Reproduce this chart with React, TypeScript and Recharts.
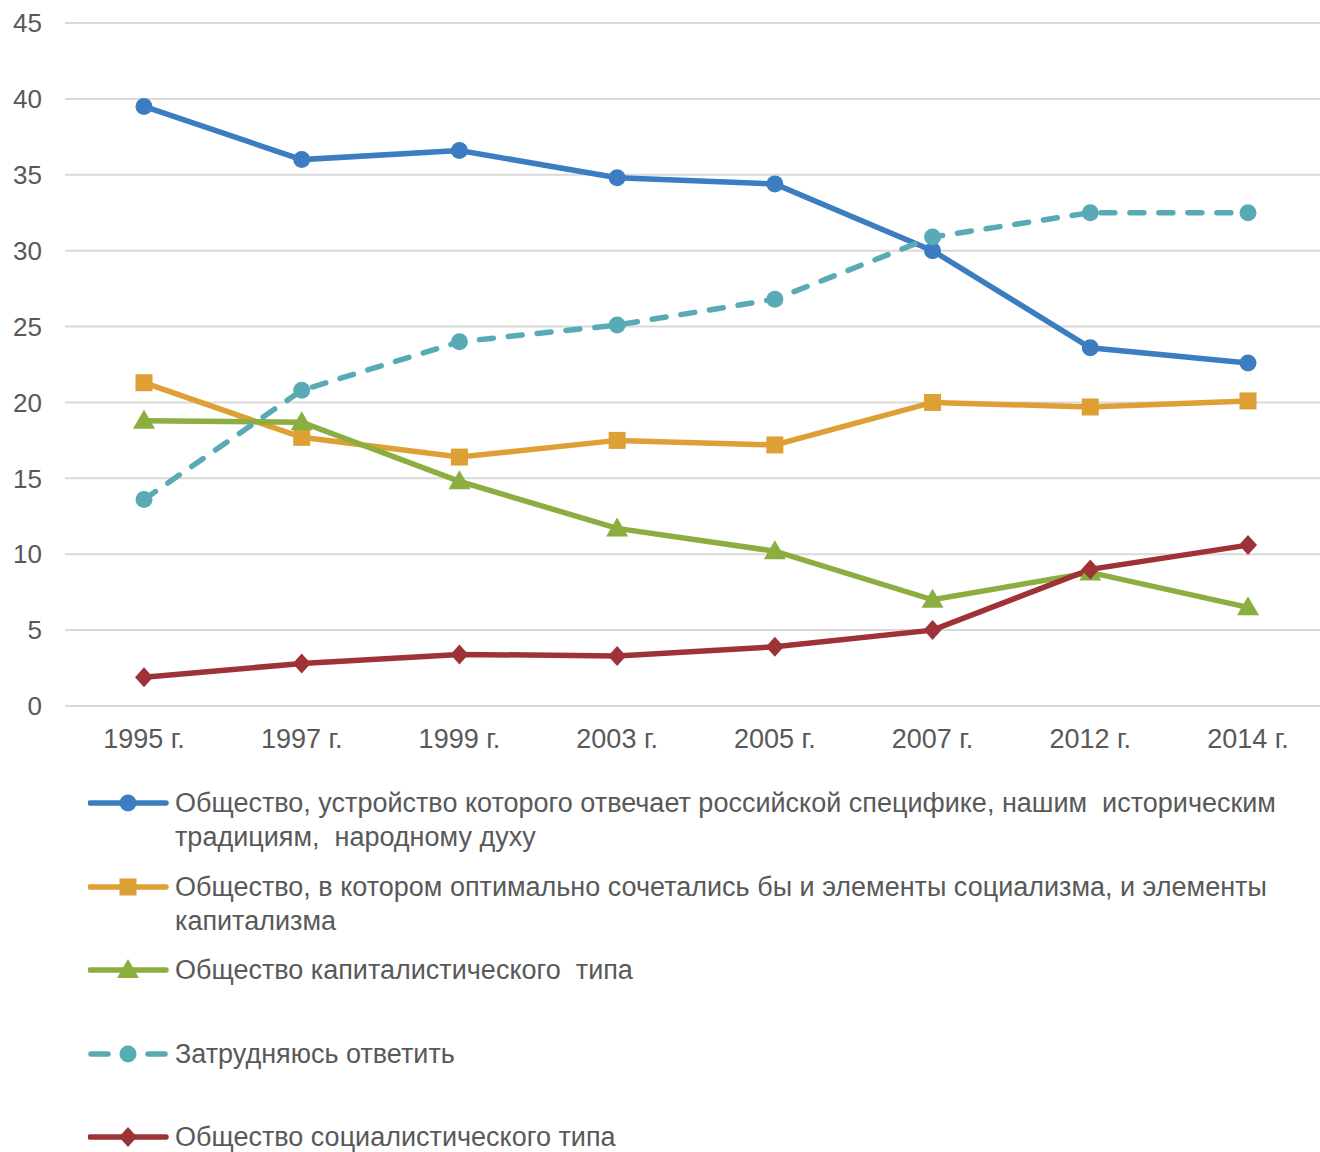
import React from 'react';
import { LineChart, Line, XAxis, YAxis, CartesianGrid, Legend } from 'recharts';

const years = ['1995 г.', '1997 г.', '1999 г.', '2003 г.', '2005 г.', '2007 г.', '2012 г.', '2014 г.'];
const russianWay = [39.5, 36, 36.6, 34.8, 34.4, 30, 23.6, 22.6];
const mixed = [21.3, 17.7, 16.4, 17.5, 17.2, 20, 19.7, 20.1];
const capitalist = [18.8, 18.7, 14.8, 11.7, 10.2, 7, 8.8, 6.5];
const hardToSay = [13.6, 20.8, 24, 25.1, 26.8, 30.9, 32.5, 32.5];
const socialist = [1.9, 2.8, 3.4, 3.3, 3.9, 5, 9, 10.6];
const yTicks = [0, 5, 10, 15, 20, 25, 30, 35, 40, 45];

const data = years.map((year, i) => ({
  year,
  a: russianWay[i],
  b: mixed[i],
  c: capitalist[i],
  d: hardToSay[i],
  e: socialist[i],
}));

const FONT = '"Liberation Sans", Arial, sans-serif';
const TEXT = '#595959';

type Shape = 'circle' | 'square' | 'triangle' | 'diamond';

// legend labels keep the original line breaks
const series = [
  { key: 'a', name: 'Общество, устройство которого отвечает российской специфике, нашим  историческим\nтрадициям,  народному духу', color: '#3B7DC0', shape: 'circle' as Shape, dashed: false },
  { key: 'b', name: 'Общество, в котором оптимально сочетались бы и элементы социализма, и элементы\nкапитализма', color: '#DE9F35', shape: 'square' as Shape, dashed: false },
  { key: 'c', name: 'Общество капиталистического  типа', color: '#8CAD3F', shape: 'triangle' as Shape, dashed: false },
  { key: 'd', name: 'Затрудняюсь ответить', color: '#58AAB5', shape: 'circle' as Shape, dashed: true },
  { key: 'e', name: 'Общество социалистического типа', color: '#9E3236', shape: 'diamond' as Shape, dashed: false },
];

function marker(shape: Shape, cx: number, cy: number, color: string, k?: string) {
  if (shape === 'circle') return <circle key={k} cx={cx} cy={cy} r={8.5} fill={color} />;
  if (shape === 'square') return <rect key={k} x={cx - 8.5} y={cy - 8.5} width={17} height={17} fill={color} />;
  if (shape === 'triangle')
    return <polygon key={k} points={`${cx},${cy - 11} ${cx + 11},${cy + 8} ${cx - 11},${cy + 8}`} fill={color} />;
  return <polygon key={k} points={`${cx},${cy - 10} ${cx + 9},${cy} ${cx},${cy + 10} ${cx - 9},${cy}`} fill={color} />;
}

function makeDot(shape: Shape, color: string) {
  return (props: any) => {
    const { cx, cy, index } = props;
    if (cx == null || cy == null) return <g key={index} />;
    return marker(shape, cx, cy, color, `dot-${index}`);
  };
}

function LegendList() {
  return (
    <div style={{ fontFamily: FONT, fontSize: 27, color: TEXT }}>
      {series.map((s) => (
        <div key={s.key} style={{ display: 'flex', alignItems: 'flex-start', height: 83.5 }}>
          <svg width={84} height={34} style={{ flex: 'none' }}>
            {s.dashed ? (
              <g>
                <line x1={3} y1={17} x2={20} y2={17} stroke={s.color} strokeWidth={5.5} strokeLinecap="round" />
                <line x1={60} y1={17} x2={77} y2={17} stroke={s.color} strokeWidth={5.5} strokeLinecap="round" />
              </g>
            ) : (
              <line x1={2} y1={17} x2={78} y2={17} stroke={s.color} strokeWidth={5.5} strokeLinecap="round" />
            )}
            {marker(s.shape, 40, 17, s.color)}
          </svg>
          <div style={{ lineHeight: '34px', width: 1140, marginLeft: 3, whiteSpace: 'pre' }}>{s.name}</div>
        </div>
      ))}
    </div>
  );
}

export default function App() {
  return (
    <div style={{ position: 'absolute', left: 0, top: 0, width: 1320, height: 1152, background: '#fff' }}>
      <LineChart width={1320} height={1152} data={data} margin={{ top: 23, right: 0, bottom: 386, left: 0 }}>
        <CartesianGrid vertical={false} stroke="#D9D9D9" strokeWidth={2} />
        <XAxis
          dataKey="year"
          axisLine={false}
          tickLine={false}
          height={60}
          tickMargin={17}
          padding={{ left: 79, right: 72 }}
          tick={{ fill: TEXT, fontSize: 27, fontFamily: FONT }}
        />
        <YAxis
          domain={[0, 45]}
          ticks={yTicks}
          width={65}
          axisLine={false}
          tickLine={false}
          tickMargin={17}
          tick={{ fill: TEXT, fontSize: 26, fontFamily: FONT }}
        />
        {series.map((s) => (
          <Line
            key={s.key}
            dataKey={s.key}
            name={s.name}
            stroke={s.color}
            strokeWidth={5.5}
            strokeDasharray={s.dashed ? '14 15' : undefined}
            strokeLinecap={s.dashed ? 'round' : 'butt'}
            dot={makeDot(s.shape, s.color)}
            activeDot={false}
            isAnimationActive={false}
          />
        ))}
        <Legend
          layout="vertical"
          align="center"
          verticalAlign="middle"
          wrapperStyle={{ top: 786, left: 88, width: 1230 }}
          content={() => <LegendList />}
        />
      </LineChart>
    </div>
  );
}
